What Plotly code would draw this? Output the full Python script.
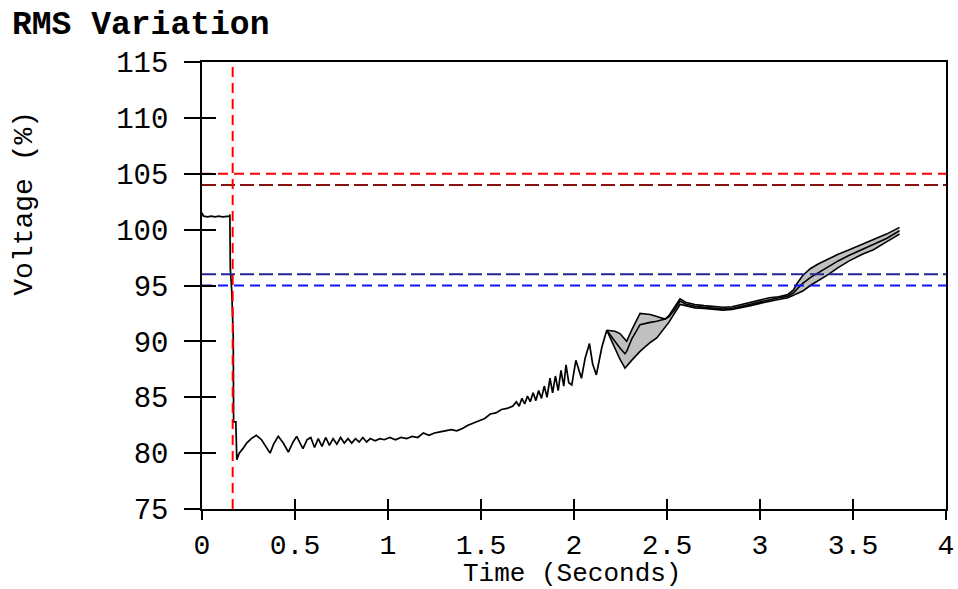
import plotly.graph_objects as go

# ---------------- data ----------------
T_MAIN = [0.000, 0.008, 0.030, 0.050, 0.070, 0.090, 0.110, 0.130, 0.148, 0.150,
          0.152, 0.160, 0.168, 0.170, 0.182, 0.187, 0.200, 0.220, 0.240, 0.265,
          0.292, 0.320, 0.345, 0.366, 0.385, 0.410, 0.437, 0.464, 0.490, 0.509,
          0.530, 0.543, 0.565, 0.585, 0.605, 0.625, 0.645, 0.665, 0.685, 0.705,
          0.725, 0.745, 0.765, 0.785, 0.805, 0.825, 0.845, 0.865, 0.885, 0.905,
          0.930, 0.957, 0.980, 1.010, 1.040, 1.070, 1.100, 1.130, 1.160, 1.190,
          1.220, 1.250, 1.280, 1.310, 1.340, 1.370, 1.400, 1.430, 1.460, 1.495,
          1.520, 1.550, 1.580, 1.610, 1.640, 1.670, 1.690, 1.705, 1.720, 1.735,
          1.750, 1.765, 1.780, 1.795, 1.810, 1.825, 1.840, 1.855, 1.871, 1.885,
          1.900, 1.915, 1.930, 1.945, 1.957, 1.972, 1.988, 2.010, 2.025, 2.040,
          2.060, 2.083, 2.100, 2.120, 2.150, 2.176]
V_MAIN = [101.5, 101.2, 101.15, 101.2, 101.15, 101.2, 101.15, 101.2, 101.2, 101.35,
          96.6, 94.5, 90.4, 82.8, 82.8, 79.4, 80.0, 80.4, 80.9, 81.3,
          81.6, 81.2, 80.5, 80.0, 80.8, 81.5, 80.9, 80.1, 81.0, 81.5,
          80.8, 80.4, 81.2, 81.4, 80.5, 81.3, 80.6, 81.4, 80.7, 81.3,
          80.8, 81.4, 80.9, 81.3, 80.9, 81.3, 81.0, 81.4, 81.0, 81.3,
          81.1, 81.3, 81.2, 81.4, 81.2, 81.4, 81.3, 81.5, 81.4, 81.8,
          81.6, 81.8, 81.9, 82.0, 82.1, 82.0, 82.2, 82.5, 82.7, 83.0,
          83.1, 83.5, 83.6, 83.9, 84.0, 84.2, 84.6, 84.2, 84.9, 84.4,
          85.1, 84.6, 85.4, 84.7, 85.6, 84.9, 86.0, 85.0, 86.7, 85.4,
          86.9, 85.6, 87.4, 86.0, 87.9, 86.3, 86.1, 88.3, 87.5, 86.7,
          88.5, 89.8, 88.0, 87.0, 89.5, 91.0]

T_BAND = [2.176, 2.22, 2.247, 2.274, 2.283, 2.31, 2.355, 2.41, 2.445, 2.49,
          2.51, 2.54, 2.57, 2.60, 2.65, 2.70, 2.75, 2.80, 2.85, 2.90,
          2.95, 3.00, 3.05, 3.10, 3.15, 3.18, 3.20, 3.23, 3.27, 3.31, 3.36,
          3.42, 3.48, 3.55, 3.61, 3.68, 3.75]
V_UPPER = [91.0, 90.9, 90.7, 90.2, 90.0, 91.0, 92.5, 92.4, 92.2, 92.0,
           92.3, 93.0, 93.8, 93.5, 93.3, 93.2, 93.1, 93.05, 93.1, 93.3,
           93.5, 93.7, 93.9, 94.0, 94.2, 94.6, 95.2, 95.9, 96.5, 96.9, 97.3,
           97.8, 98.2, 98.7, 99.1, 99.6, 100.2]
V_MIDDLE = [91.0, 90.0, 89.4, 88.9, 89.1, 90.2, 91.5, 91.7, 91.8, 92.0,
            92.2, 92.8, 93.6, 93.35, 93.15, 93.05, 92.95, 92.9, 92.95, 93.15,
            93.35, 93.55, 93.75, 93.9, 94.05, 94.35, 94.7, 95.2, 95.7, 96.1, 96.6,
            97.2, 97.7, 98.2, 98.7, 99.2, 99.9]
V_LOWER = [91.0, 89.3, 88.4, 87.6, 87.8, 88.3, 89.1, 89.9, 90.3, 91.2,
           91.7, 92.5, 93.3, 93.2, 93.0, 92.95, 92.85, 92.8, 92.85, 93.0,
           93.2, 93.4, 93.6, 93.75, 93.9, 94.1, 94.25, 94.5, 95.0, 95.4, 95.9,
           96.6, 97.2, 97.8, 98.2, 98.9, 99.6]

LIMIT_LEVELS = [105, 104, 96, 95]
LIMIT_COLORS = ["#ff0000", "#8b1010", "#25258f", "#1010ff"]
LIMIT_DASHES = ["10px,6px", "14px,5px", "14px,5px", "10px,6px"]
EVENT_TIME = 0.165

X_RANGE = [0, 4]
Y_RANGE = [75, 115]
X_TICKS = [0, 0.5, 1, 1.5, 2, 2.5, 3, 3.5, 4]
Y_TICKS = [75, 80, 85, 90, 95, 100, 105, 110, 115]

FONT = "Liberation Mono, Courier New, monospace"

fig = go.Figure()

# band (lower, upper filled, middle)
fig.add_trace(go.Scatter(x=T_BAND, y=V_LOWER, mode="lines",
                         line=dict(color="black", width=1.6), showlegend=False, hoverinfo="skip"))
fig.add_trace(go.Scatter(x=T_BAND, y=V_UPPER, mode="lines", fill="tonexty",
                         fillcolor="#c0c0c0",
                         line=dict(color="black", width=1.6), showlegend=False, hoverinfo="skip"))
fig.add_trace(go.Scatter(x=T_BAND, y=V_MIDDLE, mode="lines",
                         line=dict(color="black", width=1.6), showlegend=False, hoverinfo="skip"))
# main trace
fig.add_trace(go.Scatter(x=T_MAIN, y=V_MAIN, mode="lines",
                         line=dict(color="black", width=1.7), showlegend=False, hoverinfo="skip"))

# limit lines on overlay axes (drawn above band)
for lvl, col, dsh in zip(LIMIT_LEVELS, LIMIT_COLORS, LIMIT_DASHES):
    fig.add_trace(go.Scatter(x=X_RANGE, y=[lvl, lvl], mode="lines", xaxis="x2", yaxis="y2",
                             line=dict(color=col, width=2, dash=dsh),
                             showlegend=False, hoverinfo="skip"))
fig.add_trace(go.Scatter(x=[EVENT_TIME, EVENT_TIME], y=Y_RANGE, mode="lines", xaxis="x2", yaxis="y2",
                         line=dict(color="#ff0000", width=2, dash="10px,6px"),
                         showlegend=False, hoverinfo="skip"))

xtick_font = dict(family=FONT, size=28, color="black")
ytick_font = dict(family=FONT, size=29, color="black")

fig.update_layout(
    width=958, height=589,
    margin=dict(l=202, r=12, t=62, b=80),
    paper_bgcolor="white", plot_bgcolor="white",
    title=dict(text="<b>RMS Variation</b>", x=12 / 958, xref="container", xanchor="left",
               y=1 - 22 / 589, yref="container", yanchor="middle",
               font=dict(family=FONT, size=33, color="black")),
    xaxis=dict(range=X_RANGE, tickvals=X_TICKS, ticks="outside", ticklen=9, tickwidth=1.5,
               tickcolor="black", showline=True, linecolor="black", linewidth=1.5, mirror=True,
               showgrid=False, zeroline=False, tickfont=xtick_font, ticklabelstandoff=1,
               automargin=False),
    yaxis=dict(range=Y_RANGE, tickvals=Y_TICKS, ticks="outside", ticklen=16, tickwidth=1.5,
               tickcolor="black", showline=True, linecolor="black", linewidth=1.5, mirror=True,
               showgrid=False, zeroline=False, tickfont=ytick_font, ticklabelstandoff=10,
               automargin=False),
    xaxis2=dict(range=X_RANGE, tickvals=X_TICKS, ticks="inside", ticklen=10, tickwidth=1.5,
                tickcolor="black", overlaying="x", showticklabels=False, showline=False,
                showgrid=False, zeroline=False, automargin=False),
    yaxis2=dict(range=Y_RANGE, tickvals=Y_TICKS, ticks="inside", ticklen=14, tickwidth=1.5,
                tickcolor="black", overlaying="y", showticklabels=False, showline=False,
                showgrid=False, zeroline=False, automargin=False),
    annotations=[
        dict(text="Time (Seconds)", xref="paper", yref="paper", x=0.497, y=(509 - 574) / 447,
             xanchor="center", yanchor="middle", showarrow=False,
             font=dict(family=FONT, size=26, color="black")),
        dict(text="Voltage (%)", xref="paper", yref="paper", x=(25 - 202) / 744, y=0.683,
             xanchor="center", yanchor="middle", showarrow=False, textangle=-90,
             font=dict(family=FONT, size=28, color="black")),
    ],
)

fig.write_html("out.html", config={"displayModeBar": False},
               post_script="document.body.style.margin='0px';")
